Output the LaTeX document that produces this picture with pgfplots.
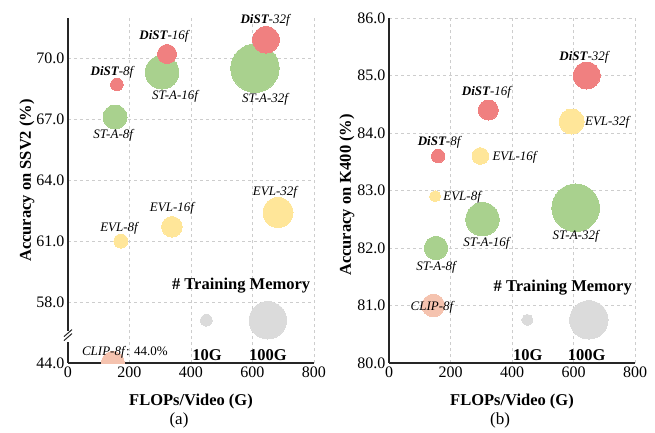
\documentclass[border=0pt]{standalone}
\usepackage{pgfplots}
\pgfplotsset{compat=1.18}
\usetikzlibrary{calc}
\usepackage{fontspec}
\setmainfont{Liberation Serif}
\definecolor{dred}{RGB}{240,128,128}
\definecolor{sgreen}{RGB}{169,209,142}
\definecolor{eyellow}{RGB}{255,230,153}
\definecolor{csalmon}{RGB}{245,195,175}
\definecolor{lgray}{RGB}{219,219,219}
\definecolor{gridc}{RGB}{205,205,205}

\pgfplotsset{
  bub/.style={scatter, only marks, mark=*, scatter/use mapped color={draw=#1, fill=#1},
    mark options={line width=0pt},
    visualization depends on={\thisrow{r}\as\rad},
    scatter/@pre marker code/.append style={/tikz/mark size=\rad}},
  common/.style={
    scale only axis, width=246pt, height=345pt,
    xmin=0, xmax=800, xtick={0,200,400,600,800},
    xticklabels={0,200,400,600,800},
    axis x line*=bottom, axis y line*=left,
    axis line style={line width=1.3pt, black!85},
    major tick length=0pt,
    grid=major, grid style={dashed, gridc, line width=0.5pt},
    tick label style={font=\fontsize{16}{18}\selectfont},
    /pgf/number format/assume math mode=true,
    label style={font=\fontsize{16.5}{19}\selectfont\bfseries},
    xlabel={FLOPs/Video (G)},
    xlabel style={at={(axis description cs:0.5,-0.113)}, anchor=center},
    clip mode=individual,
    clip marker paths=true,
  },
}
\tikzset{
  lab/.style={font=\fontsize{13}{15}\selectfont\itshape},
  big/.style={font=\fontsize{16.5}{19}\selectfont\bfseries},
}
\newcommand{\dist}[1]{\textbf{\textit{DiST}}\textit{-#1}}

\begin{document}
\begin{tikzpicture}
\useasboundingbox (-68pt,-69pt) rectangle (587pt,363pt);
% ---------------- (a) SSV2 ----------------
\begin{axis}[common,
  ymin=55, ymax=71.97,
  ytick={55,58,61,64,67,70},
  yticklabels={44.0,58.0,61.0,64.0,67.0,70.0},
  ylabel={Accuracy on SSV2 (\%)},
  ylabel style={at={(axis description cs:-0.167,0.529)}, anchor=center},
]
\addplot[bub=sgreen] table[row sep=\\] {x y r\\ 153 67.1 12\\ 306 69.3 16.8\\ 608 69.5 24.2\\};
\addplot[bub=dred] table[row sep=\\] {x y r\\ 159 68.7 6.3\\ 322 70.2 9.5\\ 644 70.9 13.3\\};
\addplot[bub=eyellow] table[row sep=\\] {x y r\\ 172 61.0 7\\ 338 61.7 10.3\\ 683 62.4 15\\};
\addplot[bub=csalmon] table[row sep=\\] {x y r\\ 146 55 11.7\\};
\addplot[bub=lgray] table[row sep=\\] {x y r\\ 450 57.1 5.8\\ 650 57.1 18.7\\};
\node[lab] at (axis cs:143,69.31) {\dist{8f}};
\node[lab] at (axis cs:312,71.08) {\dist{16f}};
\node[lab] at (axis cs:641,71.87) {\dist{32f}};
\node[lab] at (axis cs:147,66.21) {ST-A-8f};
\node[lab] at (axis cs:348,68.13) {ST-A-16f};
\node[lab] at (axis cs:641,67.98) {ST-A-32f};
\node[lab] at (axis cs:166,61.64) {EVL-8f};
\node[lab] at (axis cs:338,62.62) {EVL-16f};
\node[lab] at (axis cs:673,63.41) {EVL-32f};
\node[lab] at (axis cs:185,55.54) {CLIP-8f\textup{: 44.0\%}};
\node[big] at (axis cs:563,58.83) {\# Training Memory};
\node[big] at (axis cs:452,55.39) {10G};
\node[big] at (axis cs:650,55.39) {100G};
\coordinate (brk) at (axis cs:0,56.3);
\end{axis}
\fill[white] ($(brk)+(-3pt,-5.5pt)$) rectangle ($(brk)+(3pt,5.5pt)$);
\draw[line width=1pt, black!85] ($(brk)+(-4pt,0pt)$) -- ($(brk)+(4pt,7pt)$);
\draw[line width=1pt, black!85] ($(brk)+(-4pt,-4pt)$) -- ($(brk)+(4pt,3pt)$);
\node[font=\fontsize{17}{20}\selectfont] at (111pt,-57pt) {(a)};
% ---------------- (b) K400 ----------------
\begin{axis}[common, at={(321pt,0pt)},
  ymin=80, ymax=86,
  ytick={80,81,82,83,84,85,86},
  yticklabels={80.0,81.0,82.0,83.0,84.0,85.0,86.0},
  ylabel={Accuracy on K400 (\%)},
  ylabel style={at={(axis description cs:-0.171,0.487)}, anchor=center},
]
\addplot[bub=sgreen] table[row sep=\\] {x y r\\ 153 82.0 11.7\\ 304 82.5 16.7\\ 607 82.7 23.8\\};
\addplot[bub=dred] table[row sep=\\] {x y r\\ 160 83.6 6.7\\ 323 84.4 10\\ 643 85.0 13.5\\};
\addplot[bub=eyellow] table[row sep=\\] {x y r\\ 150 82.9 5.5\\ 297 83.6 8.3\\ 594 84.2 12.5\\};
\addplot[bub=csalmon] table[row sep=\\] {x y r\\ 144 81.0 11.3\\};
\addplot[bub=lgray] table[row sep=\\] {x y r\\ 450 80.75 5.5\\ 650 80.75 19.2\\};
\node[lab] at (axis cs:163,83.84) {\dist{8f}};
\node[lab] at (axis cs:317,84.71) {\dist{16f}};
\node[lab] at (axis cs:634,85.32) {\dist{32f}};
\node[lab, anchor=west, inner sep=0pt] at (axis cs:176,82.88) {EVL-8f};
\node[lab, anchor=west, inner sep=0pt] at (axis cs:336,83.58) {EVL-16f};
\node[lab, anchor=west, inner sep=0pt] at (axis cs:637,84.19) {EVL-32f};
\node[lab] at (axis cs:153,81.67) {ST-A-8f};
\node[lab] at (axis cs:317,82.09) {ST-A-16f};
\node[lab] at (axis cs:607,82.21) {ST-A-32f};
\node[lab] at (axis cs:140,80.97) {CLIP-8f};
\node[big] at (axis cs:565,81.32) {\# Training Memory};
\node[big] at (axis cs:451,80.14) {10G};
\node[big] at (axis cs:643,80.14) {100G};
\end{axis}
\node[font=\fontsize{17}{20}\selectfont] at (432pt,-57pt) {(b)};
\end{tikzpicture}
\end{document}
